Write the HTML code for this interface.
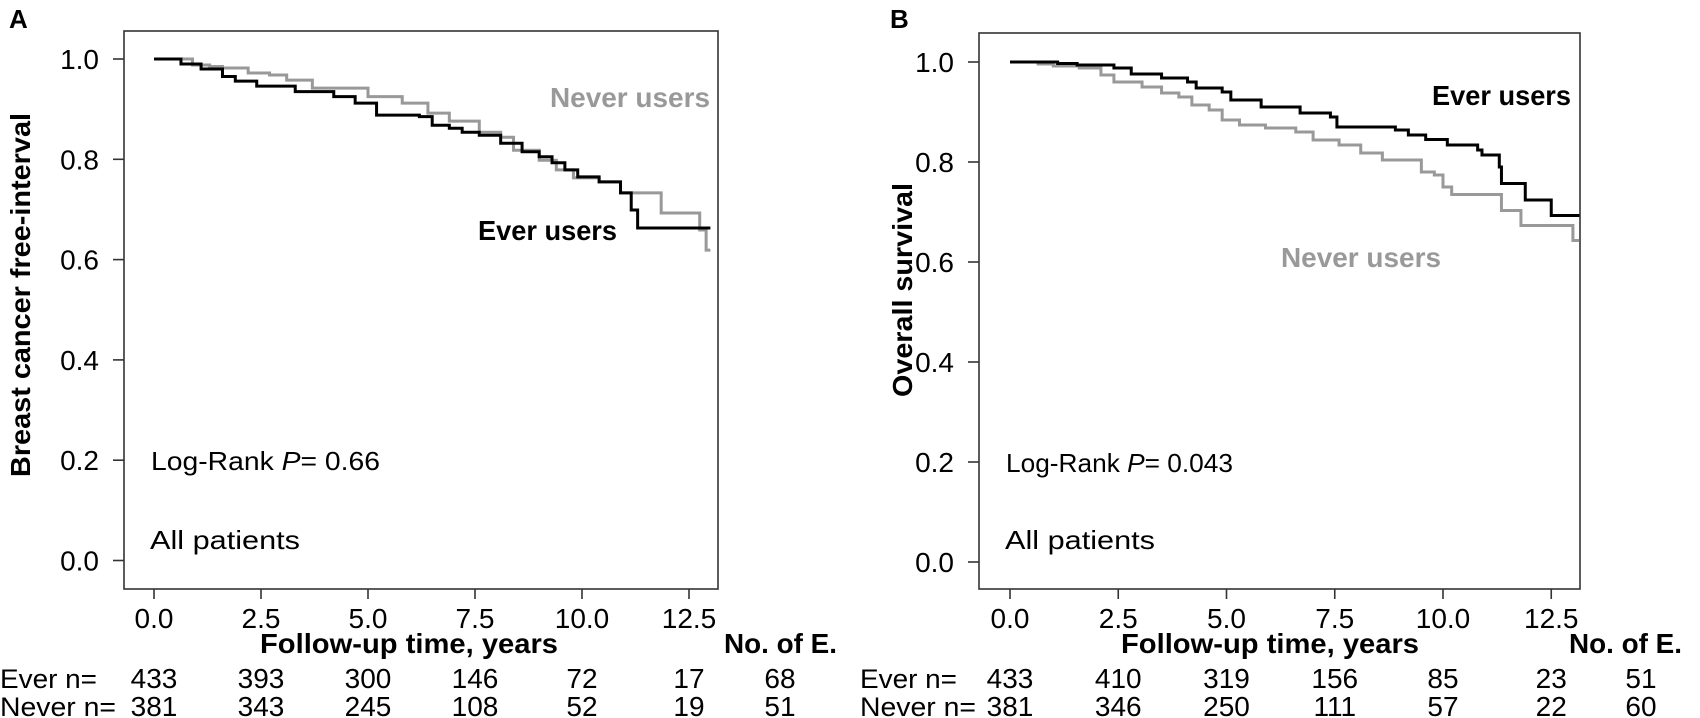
<!DOCTYPE html>
<html><head><meta charset="utf-8"><style>
html,body{margin:0;padding:0;background:#fff;}
svg{display:block;font-family:"Liberation Sans",sans-serif;}
</style></head><body>
<svg id="fig" width="1700" height="718" viewBox="0 0 1700 718" xmlns="http://www.w3.org/2000/svg"></svg>
<script>
// ---- Panel A data ----
const aEverT = [0,0.63,1.1,1.6,1.9,2.4,3.3,4.2,4.7,5.2,6.2,6.5,6.9,7.2,7.6,8.1,8.6,9.0,9.3,9.6,9.9,10.4,10.9,11.15,11.3];
const aEverS = [1,0.99,0.98,0.965,0.956,0.946,0.935,0.925,0.912,0.888,0.885,0.868,0.862,0.854,0.848,0.832,0.815,0.805,0.793,0.779,0.765,0.755,0.733,0.699,0.663];
const aNeverT = [0,0.9,1.3,1.6,2.2,2.7,3.1,3.7,5.0,5.8,6.4,6.9,7.6,8.1,8.4,9.0,9.4,9.8,10.4,10.9,11.85,12.75,12.9];
const aNeverS = [1,0.988,0.985,0.982,0.972,0.968,0.958,0.942,0.925,0.912,0.892,0.876,0.854,0.844,0.818,0.798,0.779,0.763,0.755,0.733,0.693,0.659,0.619];
const aEnd = 13.0;
// ---- Panel B data ----
const bEverT = [0,1.1,1.55,2.4,2.8,3.5,4.1,4.3,4.9,5.1,5.8,6.7,7.4,7.55,8.9,9.2,9.6,10.1,10.8,10.9,11.3,11.35,11.9,12.5];
const bEverS = [1,0.997,0.994,0.988,0.976,0.968,0.96,0.948,0.94,0.924,0.91,0.898,0.89,0.87,0.864,0.854,0.845,0.834,0.824,0.814,0.79,0.757,0.724,0.693];
const bNeverT = [0,0.65,1.0,1.6,2.1,2.4,3.05,3.5,3.9,4.2,4.6,4.9,5.3,5.9,6.6,7.0,7.6,8.1,8.6,9.5,9.8,10.0,10.2,11.35,11.8,13.0];
const bNeverS = [1,0.996,0.992,0.988,0.974,0.96,0.95,0.938,0.93,0.914,0.904,0.884,0.874,0.868,0.86,0.844,0.834,0.818,0.804,0.78,0.774,0.75,0.735,0.703,0.673,0.643];
const bEnd = 13.15;
const xTicks = [0,2.5,5,7.5,10,12.5];
const xTickLabels = ["0.0","2.5","5.0","7.5","10.0","12.5"];
const yTicks = [0,0.2,0.4,0.6,0.8,1.0];
const yTickLabels = ["0.0","0.2","0.4","0.6","0.8","1.0"];
const aEverRisk = ["433","393","300","146","72","17","68"];
const aNeverRisk = ["381","343","245","108","52","19","51"];
const bEverRisk = ["433","410","319","156","85","23","51"];
const bNeverRisk = ["381","346","250","111","57","22","60"];

const NS="http://www.w3.org/2000/svg";
const svg=document.getElementById('fig');
function el(tag,attrs,parent){const e=document.createElementNS(NS,tag);for(const k in attrs)e.setAttribute(k,attrs[k]);(parent||svg).appendChild(e);return e;}
function txt(s,attrs,parent){const e=el('text',attrs,parent);e.textContent=s;return e;}

function panel(cfg){
  const g=el('g',{});
  
  
  const x=t=>cfg.x0+t*cfg.xs, y=s=>cfg.y0-s*cfg.ys;
  const box=el('rect',{x:cfg.L,y:cfg.T,width:cfg.R-cfg.L,height:cfg.B-cfg.T,fill:'none',stroke:'#333','stroke-width':1.6},g);
  
  
  xTicks.forEach((t,i)=>{
    const tk=el('line',{x1:x(t),x2:x(t),y1:cfg.B,y2:cfg.B+10,stroke:'#333','stroke-width':1.6},g);
    
    
    const lb=txt(xTickLabels[i],{x:x(t),y:628,'text-anchor':'middle','font-size':28},g);
    
    
  });
  yTicks.forEach((s,i)=>{
    const tk=el('line',{x1:cfg.L-11,x2:cfg.L,y1:y(s),y2:y(s),stroke:'#333','stroke-width':1.6},g);
    
    
    const lb=txt(yTickLabels[i],{x:cfg.L-25,y:y(s)+10,'text-anchor':'end','font-size':28},g);
    
    
  });
  function curve(T,S,end,color,name){
    let d='M'+x(T[0])+' '+y(S[0]);
    for(let i=1;i<T.length;i++){d+=' H'+x(T[i])+' V'+y(S[i]);}
    d+=' H'+x(end);
    const p=el('path',{d:d,fill:'none',stroke:color,'stroke-width':3},g);
    
    
  }
  curve(cfg.nT,cfg.nS,cfg.nEnd,'#999','never-users-curve');
  curve(cfg.eT,cfg.eS,cfg.eEnd,'#000','ever-users-curve');
  // labels
  const nl=txt('Never users',{x:cfg.nLab[0],y:cfg.nLab[1],'font-size':28,'font-weight':'bold',fill:'#999',textLength:160,lengthAdjust:'spacingAndGlyphs'},g);
  
  
  const elb=txt('Ever users',{x:cfg.eLab[0],y:cfg.eLab[1],'font-size':28,'font-weight':'bold',fill:'#000',textLength:139,lengthAdjust:'spacingAndGlyphs'},g);
  
  
  const lr=el('text',{x:cfg.L+27,y:cfg.y0-0.2*cfg.ys+10,'font-size':26,textLength:cfg.lrLen,lengthAdjust:'spacingAndGlyphs'},g);
  lr.innerHTML='Log-Rank <tspan font-style="italic">P</tspan>= '+cfg.p;
  
  
  const ap=txt('All patients',{x:cfg.L+26,y:549,'font-size':26,textLength:150,lengthAdjust:'spacingAndGlyphs'},g);
  
  
  const yt=txt(cfg.ytitle,{x:0,y:0,'font-size':28,'font-weight':'bold','text-anchor':'middle',textLength:cfg.ytLen,lengthAdjust:'spacingAndGlyphs',transform:'translate('+(cfg.ytX+10)+','+cfg.ytY+') rotate(-90)'},g);
  
  
  const xt=txt('Follow-up time, years',{x:cfg.xtX,y:653,'font-size':28,'font-weight':'bold','text-anchor':'middle',textLength:298,lengthAdjust:'spacingAndGlyphs'},g);
  
  
  const ne=txt('No. of E.',{x:cfg.neX,y:653,'font-size':28,'font-weight':'bold',textLength:113,lengthAdjust:'spacingAndGlyphs'},g);
  
  
  const pl=txt(cfg.letter,{x:cfg.letX,y:28,'font-size':26,'font-weight':'bold'},g);
  
  
  const rl1=txt('Ever n=',{x:cfg.rowX,y:688,'font-size':27,textLength:97,lengthAdjust:'spacingAndGlyphs'},g);
  
  
  const rl2=txt('Never n=',{x:cfg.rowX,y:716,'font-size':27,textLength:116,lengthAdjust:'spacingAndGlyphs'},g);
  
  
  const cols=xTicks.map(x).concat([cfg.neVal]);
  cfg.eRisk.forEach((v,i)=>{
    const t=txt(v,{x:cols[i],y:688,'font-size':28,'text-anchor':'middle'},g);
    
    
  });
  cfg.nRisk.forEach((v,i)=>{
    const t=txt(v,{x:cols[i],y:716,'font-size':28,'text-anchor':'middle'},g);
    
    
  });
}
panel({name:'panel-a',L:124,T:31,R:718,B:589,x0:154,xs:42.8,y0:560.5,ys:501.5,
  eT:aEverT,eS:aEverS,eEnd:aEnd,nT:aNeverT,nS:aNeverS,nEnd:aEnd,
  nLab:[550,107],eLab:[478,240],p:'0.66',lrLen:229,ytitle:'Breast cancer free-interval',ytLen:364,ytX:20,ytY:295,
  xtX:409,neX:724,neVal:780,letter:'A',letX:9,rowX:0,eRisk:aEverRisk,nRisk:aNeverRisk});
panel({name:'panel-b',L:979,T:33,R:1580,B:589,x0:1010,xs:43.3,y0:562,ys:500,
  eT:bEverT,eS:bEverS,eEnd:bEnd,nT:bNeverT,nS:bNeverS,nEnd:bEnd,
  nLab:[1281,267],eLab:[1432,105],p:'0.043',lrLen:227,ytitle:'Overall survival',ytLen:214,ytX:902,ytY:290,
  xtX:1270,neX:1569,neVal:1641,letter:'B',letX:890,rowX:860,eRisk:bEverRisk,nRisk:bNeverRisk});
</script>
</body></html>
